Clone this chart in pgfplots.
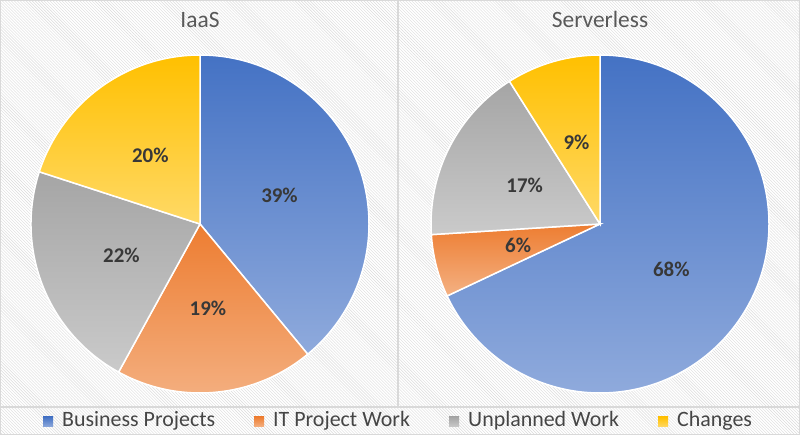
\documentclass[border=0pt]{standalone}
\usepackage{pgfplots}
\pgfplotsset{compat=1.18}
\usepackage{pgfplotstable}
\usepackage{fontspec}
\setmainfont{Carlito}
\usetikzlibrary{patterns}

\definecolor{cBlueT}{HTML}{4472C4}\definecolor{cBlueB}{HTML}{8FAADC}
\definecolor{cOrT}{HTML}{ED7D31}\definecolor{cOrB}{HTML}{F4B183}
\definecolor{cGrT}{HTML}{A5A5A5}\definecolor{cGrB}{HTML}{CACACA}
\definecolor{cYeT}{HTML}{FFC000}\definecolor{cYeB}{HTML}{FFD966}
\definecolor{txt}{HTML}{595959}
\definecolor{lbl}{HTML}{383838}
\definecolor{legtxt}{HTML}{454545}
\definecolor{frame}{HTML}{D9D9D9}

% shares in percent, order: Business Projects, IT Project Work, Unplanned Work, Changes
\pgfplotstableread{
share
39
19
22
20
}\iaas
\pgfplotstableread{
share
68
6
17
9
}\serverless

\newcommand\readshare[3]{\pgfplotstablegetelem{#2}{share}\of#1\global\let#3\pgfplotsretval}
\readshare{\iaas}{0}{\IaVa}\readshare{\iaas}{1}{\IaVb}\readshare{\iaas}{2}{\IaVc}\readshare{\iaas}{3}{\IaVd}
\readshare{\serverless}{0}{\SvVa}\readshare{\serverless}{1}{\SvVb}\readshare{\serverless}{2}{\SvVc}\readshare{\serverless}{3}{\SvVd}
\pgfmathsetmacro\IaA{90}
\pgfmathsetmacro\IaB{\IaA-3.6*\IaVa}
\pgfmathsetmacro\IaC{\IaB-3.6*\IaVb}
\pgfmathsetmacro\IaD{\IaC-3.6*\IaVc}
\pgfmathsetmacro\IaE{\IaD-3.6*\IaVd}
\pgfmathsetmacro\SvA{90}
\pgfmathsetmacro\SvB{\SvA-3.6*\SvVa}
\pgfmathsetmacro\SvC{\SvB-3.6*\SvVb}
\pgfmathsetmacro\SvD{\SvC-3.6*\SvVc}
\pgfmathsetmacro\SvE{\SvD-3.6*\SvVd}

\newcommand\slice[5]{%
  \shade[top color=#3, bottom color=#4, draw=white, line width=1.5bp]
    (axis cs:0,0) -- (axis cs:{cos(#1)},{sin(#1)})
    arc[start angle=#1, end angle=#2, radius=169bp] -- cycle;
  \node[font=\fontsize{21}{24}\selectfont\bfseries, text=lbl, inner sep=0pt]
    at (axis cs:{0.5*cos((#1+#2)/2)},{0.5*sin((#1+#2)/2)}) {#5\%};%
}

\pgfplotsset{pieaxis/.style={
  anchor=center, width=338bp, height=338bp, scale only axis,
  hide axis, xmin=-1, xmax=1, ymin=-1, ymax=1, clip=false}}

\begin{document}
\begin{tikzpicture}
\path[use as bounding box] (0,0) rectangle (800bp,435bp);
\fill[white] (0,0) rectangle (800bp,435bp);
\fill[pattern=north west lines, pattern color=black!14] (0,0) rectangle (800bp,435bp);
\draw[frame, line width=1.2bp] (0.6bp,0.6bp) rectangle (799.4bp,434.4bp);
\draw[frame, line width=1.2bp] (398bp,28bp) -- (398bp,435bp);
\draw[frame, line width=1.2bp] (0,28bp) -- (800bp,28bp);

\node[font=\fontsize{23.5}{28}\selectfont, text=txt, anchor=base] at (200bp,407bp) {IaaS};
\node[font=\fontsize{23.5}{28}\selectfont, text=txt, anchor=base] at (600bp,407bp) {Serverless};

\begin{axis}[pieaxis, at={(200bp,211bp)}]
\slice{\IaA}{\IaB}{cBlueT}{cBlueB}{\IaVa}
\slice{\IaB}{\IaC}{cOrT}{cOrB}{\IaVb}
\slice{\IaC}{\IaD}{cGrT}{cGrB}{\IaVc}
\slice{\IaD}{\IaE}{cYeT}{cYeB}{\IaVd}
\end{axis}

\begin{axis}[pieaxis, at={(600bp,211bp)}]
\slice{\SvA}{\SvB}{cBlueT}{cBlueB}{\SvVa}
\slice{\SvB}{\SvC}{cOrT}{cOrB}{\SvVb}
\slice{\SvC}{\SvD}{cGrT}{cGrB}{\SvVc}
\slice{\SvD}{\SvE}{cYeT}{cYeB}{\SvVd}
\end{axis}

% legend
\foreach \sx/\tc/\bc/\name in {43/cBlueT/cBlueB/Business Projects, 254/cOrT/cOrB/IT Project Work, 449/cGrT/cGrB/Unplanned Work, 658/cYeT/cYeB/Changes}{
  \shade[top color=\tc, bottom color=\bc] (\sx bp,8bp) rectangle ++(10bp,10bp);
  \node[font=\fontsize{22}{25}\selectfont, text=legtxt, anchor=base west, inner sep=0pt] at (\sx bp+19bp,9bp) {\name};
}
\end{tikzpicture}
\end{document}
